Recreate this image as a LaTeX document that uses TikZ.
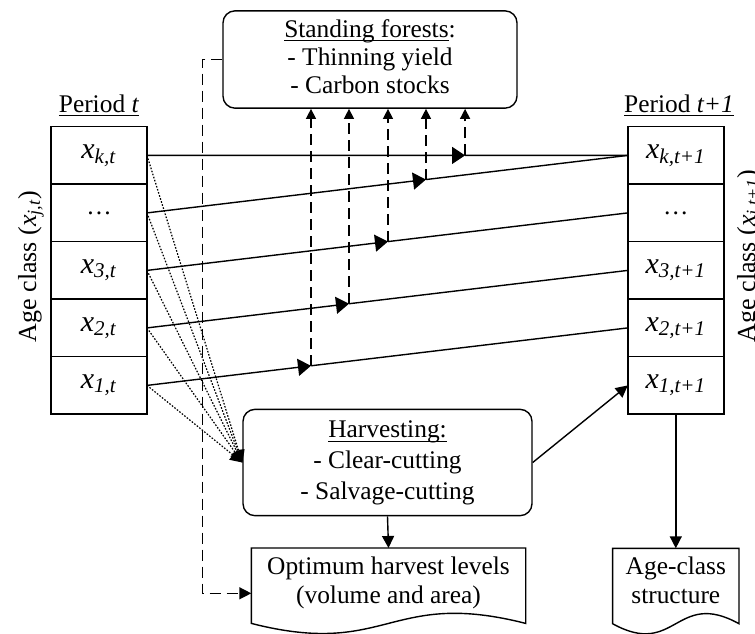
\documentclass[tikz,border=0pt]{standalone}
\usepackage{fontspec}
\setmainfont{Liberation Serif}
\usetikzlibrary{arrows.meta,positioning}

\newcommand{\xsub}[1]{\textit{x}\textsubscript{\textit{#1}}}
\newcommand{\undl}[1]{\setbox0\hbox{#1}\rlap{\rule[-2pt]{\wd0}{0.5pt}}\box0}
\newcommand{\docoutline}[1]{%
  \draw ([yshift=-3pt]#1.south west) -- (#1.north west) -- (#1.north east)
    -- ([yshift=-3pt]#1.south east)
    .. controls ([yshift=14.5pt]#1.south) and ([yshift=-20.5pt]#1.south)
    .. ([yshift=-3pt]#1.south west) -- cycle;}

\tikzset{
  cell/.style={draw, minimum width=48pt, minimum height=28.75pt,
    inner sep=0pt, outer sep=0pt, font=\fontsize{15}{18}\selectfont},
  panel/.style={draw, rounded corners=6pt, align=center,
    minimum height=47.5pt, font=\fontsize{12.7}{14}\selectfont},
  docbox/.style={align=center, inner sep=0pt, minimum height=34pt,
    font=\fontsize{12.7}{14.5}\selectfont},
  heading/.style={inner sep=0pt, font=\fontsize{12.7}{14}\selectfont},
  dashline/.style={dash pattern=on 5.5pt off 3pt},
  dotline/.style={line width=0.6pt, dash pattern=on 0.8pt off 0.8pt},
  tip/.style={-{Triangle[length=6pt,width=6pt]}},
  midtip/.style={-{Triangle[length=6.5pt,width=8.5pt]}},
  uptip/.style={-{Triangle[length=5pt,width=5pt]}}
}

\begin{document}
\begin{tikzpicture}[x=0.5pt, y=-0.5pt, line width=0.7pt]
\useasboundingbox (0,0) rectangle (755,633);

% period t
\node[heading, anchor=base] (pl) at (99,112) {\undl{Period \textit{t}}};
\node[cell] (lk) at (99,155.4) {\xsub{k,t}};
\node[cell, below=0pt of lk] (ld) {\fontsize{12.7}{14}\selectfont\dots};
\node[cell, below=0pt of ld] (l3) {\xsub{3,t}};
\node[cell, below=0pt of l3] (l2) {\xsub{2,t}};
\node[cell, below=0pt of l2] (l1) {\xsub{1,t}};
\node[heading, rotate=90, anchor=base west, font=\fontsize{13}{15}\selectfont]
  (al) at (36,343) {Age class (\xsub{j,t})};

% period t+1
\node[heading, anchor=base] (pr) at (679,112) {\undl{Period \textit{t+1}}};
\node[cell] (rk) at (675.8,155.4) {\xsub{k,t+1}};
\node[cell, below=0pt of rk] (rd) {\fontsize{12.7}{14}\selectfont\dots};
\node[cell, below=0pt of rd] (r3) {\xsub{3,t+1}};
\node[cell, below=0pt of r3] (r2) {\xsub{2,t+1}};
\node[cell, below=0pt of r2] (r1) {\xsub{1,t+1}};
\node[heading, rotate=90, anchor=base west, font=\fontsize{13}{15}\selectfont]
  (ar) at (755,343) {Age class (\xsub{j,t+1})};

% boxes
\node[panel, minimum width=147pt] (stand) at (370,59.5)
  {\strut\undl{Standing forests}:\\ \strut- Thinning yield\\ \strut- Carbon stocks};
\node[panel, minimum width=144.5pt, font=\fontsize{12.7}{15.5}\selectfont] (harv) at (387.5,462.5)
  {\strut\undl{Harvesting:}\\ \strut- Clear-cutting\\ \strut- Salvage-cutting};
\node[docbox, minimum width=136.5pt] (opt) at (388.5,582.7)
  {\strut Optimum harvest levels\\ \strut(volume and area)};
\docoutline{opt}
\node[docbox, minimum width=62.5pt] (ageout) at (675.8,583)
  {\strut Age-class\\ \strut structure};
\docoutline{ageout}

% growth from t to t+1
\coordinate (jk) at (intersection of lk.east--rk.west and 465,0--465,10);
\coordinate (jd) at (intersection of ld.east--rk.west and 426,0--426,10);
\coordinate (j3) at (intersection of l3.east--rd.west and 388,0--388,10);
\coordinate (j2) at (intersection of l2.east--r3.west and 349,0--349,10);
\coordinate (j1) at (intersection of l1.east--r2.west and 311,0--311,10);
\draw[midtip] (lk.east) -- (jk);
\draw (jk) -- (rk.west);
\draw[midtip] (ld.east) -- (jd);
\draw (jd) -- (rk.west);
\draw[midtip] (l3.east) -- (j3);
\draw (j3) -- (rd.west);
\draw[midtip] (l2.east) -- (j2);
\draw (j2) -- (r3.west);
\draw[midtip] (l1.east) -- (j1);
\draw (j1) -- (r2.west);

% yields to standing forests
\draw[dashline, uptip] (jk) -- (jk |- stand.south);
\draw[dashline, uptip] (jd) -- (jd |- stand.south);
\draw[dashline, uptip] (j3) -- (j3 |- stand.south);
\draw[dashline, uptip] (j2) -- (j2 |- stand.south);
\draw[dashline, uptip] (j1) -- (j1 |- stand.south);

% harvesting
\draw[dotline, tip] (lk.east) -- (harv.west);
\draw[dotline, tip] (ld.east) -- (harv.west);
\draw[dotline, tip] (l3.east) -- (harv.west);
\draw[dotline, tip] (l2.east) -- (harv.west);
\draw[dotline, tip] (l1.east) -- (harv.west);
\draw[tip] (harv.east) -- (r1.west);
\draw[tip] (harv.south) -- (opt.north);
\draw[tip] (r1.south) -- (ageout.north);
\draw[dashline, tip] (stand.west) -- ++(-20,0) |- ([yshift=-5.3pt]opt.west);
\end{tikzpicture}
\end{document}
